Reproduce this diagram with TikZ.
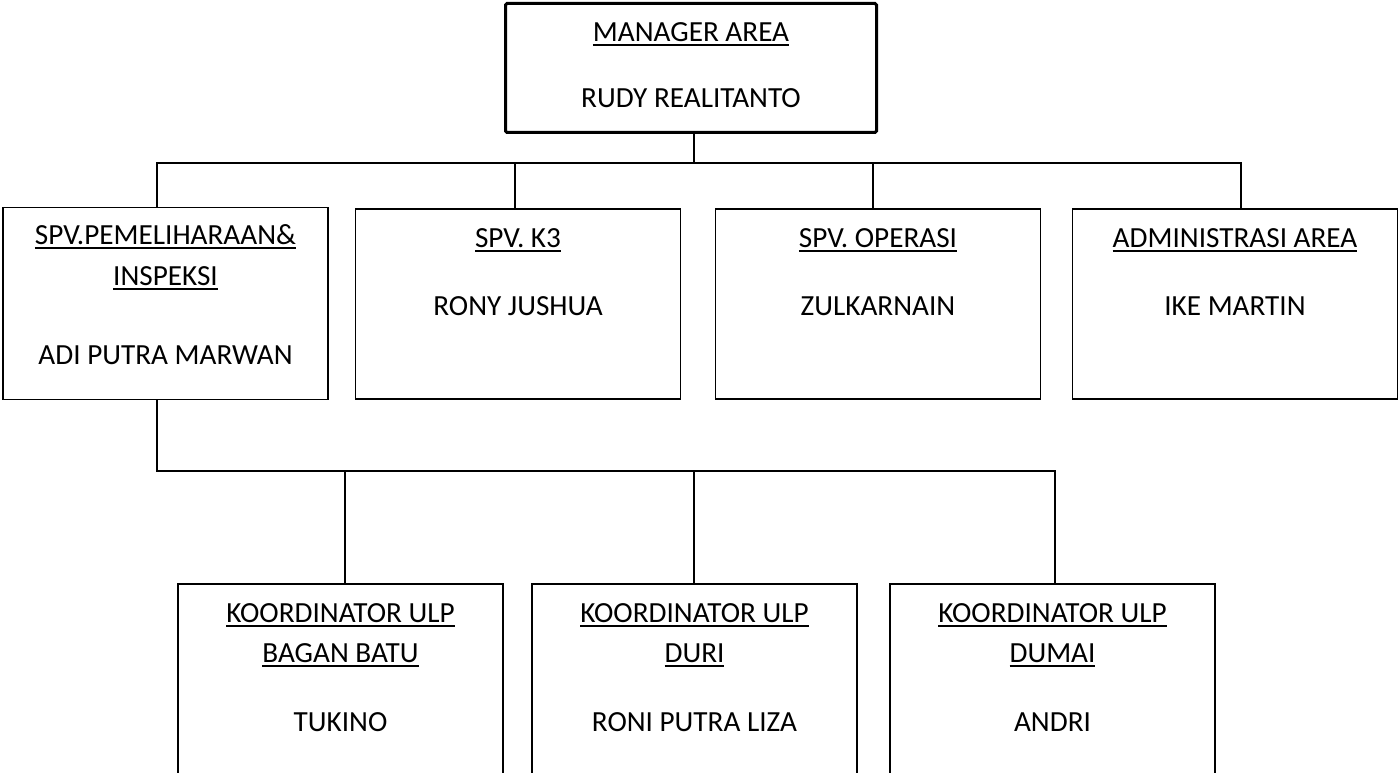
\documentclass[tikz,border=0pt]{standalone}
\usepackage{fontspec}
\setmainfont{Carlito}
\newcommand\ulin[1]{\setbox0\hbox{#1}\rlap{\rule[-4pt]{\wd0}{1.5pt}}\box0}
\tikzset{
  box/.style={draw, line width=1.3pt, rectangle, inner sep=0pt, minimum width=325pt, minimum height=190pt},
  topbox/.style={draw, line width=3pt, rectangle, rounded corners=1.5pt, inner sep=0pt, minimum width=371pt, minimum height=129pt},
  txt/.style={anchor=base, inner sep=0pt, font=\fontsize{29.2}{35}\selectfont},
  link/.style={line width=1.3pt}
}
\begin{document}
\begin{tikzpicture}[x=1pt,y=1pt]
\useasboundingbox (0,0) rectangle (1400,773);
\clip (0,0) rectangle (1400,773);
% top box
\node[topbox] (mgr) at (691,705) {};
\node[txt] (mgrt) at (691,731) {\ulin{MANAGER AREA}};
\node[txt] (mgrn) at (691,665) {RUDY REALITANTO};
% second level
\node[box, minimum height=192pt] (b1) at (165.5,469.5) {};
\node[txt] (b1t) at (165.5,528) {\ulin{SPV.PEMELIHARAAN\&}};
\node[txt] (b1u) at (165.5,487) {\ulin{INSPEKSI}};
\node[txt] (b1n) at (165.5,408) {ADI PUTRA MARWAN};
\node[box] (b2) at (518,469) {};
\node[txt] (b2t) at (518,525) {\ulin{SPV. K3}};
\node[txt] (b2n) at (518,457) {RONY JUSHUA};
\node[box] (b3) at (878,469) {};
\node[txt] (b3t) at (878,525) {\ulin{SPV. OPERASI}};
\node[txt] (b3n) at (878,457) {ZULKARNAIN};
\node[box] (b4) at (1235,469) {};
\node[txt] (b4t) at (1235,525) {\ulin{ADMINISTRASI AREA}};
\node[txt] (b4n) at (1235,457) {IKE MARTIN};
% third level
\node[box, minimum height=210pt] (c1) at (340.5,84) {};
\node[txt] (c1t) at (340.5,150) {\ulin{KOORDINATOR ULP}};
\node[txt] (c1u) at (340.5,110) {\ulin{BAGAN BATU}};
\node[txt] (c1n) at (340.5,41) {TUKINO};
\node[box, minimum height=210pt] (c2) at (694.5,84) {};
\node[txt] (c2t) at (694.5,150) {\ulin{KOORDINATOR ULP}};
\node[txt] (c2u) at (694.5,110) {\ulin{DURI}};
\node[txt] (c2n) at (694.5,41) {RONI PUTRA LIZA};
\node[box, minimum height=210pt] (c3) at (1052.5,84) {};
\node[txt] (c3t) at (1052.5,150) {\ulin{KOORDINATOR ULP}};
\node[txt] (c3u) at (1052.5,110) {\ulin{DUMAI}};
\node[txt] (c3n) at (1052.5,41) {ANDRI};
% connectors
\coordinate (bar1) at (694,610);
\coordinate (bar2) at (694,302);
\draw[link] ([xshift=3pt]mgr.south) -- (bar1);
\draw[link] ([xshift=-8.5pt]b1.north) |- (bar1) -| ([xshift=6pt]b4.north);
\draw[link] ([xshift=-3pt]b2.north) -- ([xshift=-3pt]b2.north |- bar1);
\draw[link] ([xshift=-5pt]b3.north) -- ([xshift=-5pt]b3.north |- bar1);
\draw[link] ([xshift=-8.5pt]b1.south) |- (bar2) -| ([xshift=2.5pt]c3.north);
\draw[link] ([xshift=4.5pt]c1.north) -- ([xshift=4.5pt]c1.north |- bar2);
\draw[link] ([xshift=-0.5pt]c2.north) -- (bar2);
\end{tikzpicture}
\end{document}
